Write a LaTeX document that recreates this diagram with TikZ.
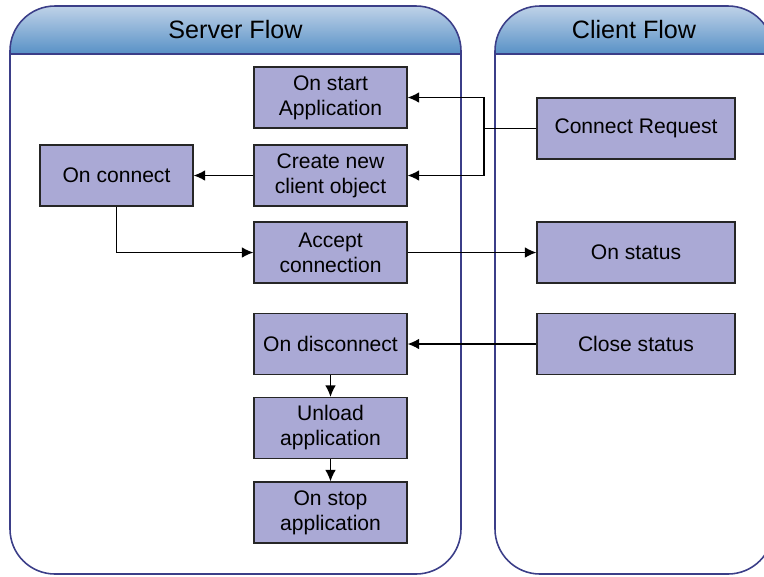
\documentclass[tikz,border=0pt]{standalone}
\usepackage{fontspec}
\setmainfont{Liberation Sans}
\usetikzlibrary{arrows.meta}
\definecolor{laneline}{HTML}{3B3E88}
\definecolor{headtop}{HTML}{BFD2E8}
\definecolor{headbot}{HTML}{5891C6}
\definecolor{boxfill}{HTML}{AAA9D5}
\tikzset{
    flowbox/.style={draw=black!85, fill=boxfill, line width=0.7pt, inner sep=0pt,
        minimum width=3.06cm, minimum height=1.22cm, align=center,
        font=\fontsize{12}{14.2}\selectfont},
    clientbox/.style={flowbox, minimum width=3.96cm},
    lanehead/.style={font=\fontsize{14.3}{16}\selectfont},
    link/.style={line width=0.75pt, black}
}
\begin{document}
\begin{tikzpicture}[x=0.02cm, y=-0.02cm, >={Latex[length=6.5pt,width=6pt]}]
    % 1. Khung hình
    \useasboundingbox (0,0) rectangle (764,576);
    \clip (0,0) rectangle (764,576);

    % 2. Hai làn: Server và Client
    \foreach \xa/\xb/\title in {10/461/Server Flow, 495/773/Client Flow} {
        \begin{scope}
            \clip[rounded corners=0.9cm] (\xa,6) rectangle (\xb,200);
            \shade[top color=headtop, bottom color=headbot] (\xa,6) rectangle (\xb,54);
        \end{scope}
        \draw[laneline, line width=0.9pt] (\xa,54) -- (\xb,54);
        \draw[laneline, line width=0.9pt, rounded corners=0.9cm] (\xa,6) rectangle (\xb,574);
        \node[lanehead] at ({(\xa+\xb)/2}, 30) {\title};
    }

    % 3. Các bước phía Server
    \node[flowbox] (start)  at (330.5, 97.5)  {On start\\Application};
    \node[flowbox] (newcl)  at (330.5, 175.5) {Create new\\client object};
    \node[flowbox] (conn)   at (116.5, 175.5) {On connect};
    \node[flowbox] (accept) at (330.5, 252.5) {Accept\\connection};
    \node[flowbox] (disc)   at (330.5, 344)   {On disconnect};
    \node[flowbox] (unload) at (330.5, 428)   {Unload\\application};
    \node[flowbox] (stop)   at (330.5, 512.5) {On stop\\application};

    % 4. Các bước phía Client
    \node[clientbox] (req)    at (636, 128.5) {Connect Request};
    \node[clientbox] (status) at (636, 252.5) {On status};
    \node[clientbox] (close)  at (636, 344)   {Close status};

    % 5. Mũi tên nối
    \coordinate (fork) at (484, 128.5);
    \draw[link] (req.west) -- (fork);
    \draw[link, ->] (fork) |- (start.east);
    \draw[link, ->] (fork) |- (newcl.east);
    \draw[link, ->] (newcl.west) -- (conn.east);
    \draw[link, ->] (conn.south) |- (accept.west);
    \draw[link, ->] (accept.east) -- (status.west);
    \draw[link, ->] (close.west) -- (disc.east);
    \draw[link, ->] (disc.south) -- (unload.north);
    \draw[link, ->] (unload.south) -- (stop.north);
\end{tikzpicture}
\end{document}
